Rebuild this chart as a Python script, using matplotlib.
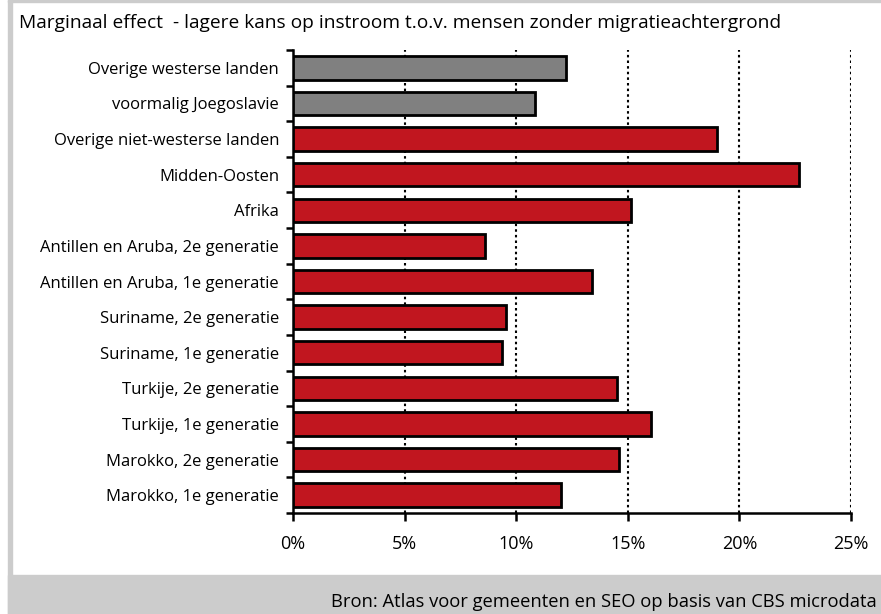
import matplotlib
matplotlib.use('Agg')
import matplotlib.pyplot as plt
from matplotlib.patches import Rectangle
from matplotlib.ticker import FuncFormatter

plt.rcParams['font.family'] = ['Open Sans', 'DejaVu Sans']

# Data (bottom to top)
categories = [
    'Marokko, 1e generatie',
    'Marokko, 2e generatie',
    'Turkije, 1e generatie',
    'Turkije, 2e generatie',
    'Suriname, 1e generatie',
    'Suriname, 2e generatie',
    'Antillen en Aruba, 1e generatie',
    'Antillen en Aruba, 2e generatie',
    'Afrika',
    'Midden-Oosten',
    'Overige niet-westerse landen',
    'voormalig Joegoslavie',
    'Overige westerse landen',
]
values = [12.0, 14.6, 16.05, 14.5, 9.35, 9.55, 13.4, 8.6, 15.15, 22.65, 19.0, 10.85, 12.25]
western = [False] * 11 + [True, True]

W, H = 881, 614
fig = plt.figure(figsize=(W / 100, H / 100), dpi=100)
fig.patch.set_facecolor('white')

# frame decorations (figure pixel coords)
def px_rect(x0, y0, x1, y1, color):
    fig.patches.append(Rectangle((x0 / W, 1 - y1 / H), (x1 - x0) / W, (y1 - y0) / H,
                                 transform=fig.transFigure, color=color, zorder=0))

px_rect(8, 0, 12, H, '#cccccc')
px_rect(8, 0, W, 2, '#cccccc')
px_rect(8, 575, W, H, '#cccccc')

ax = fig.add_axes([293 / W, 1 - 513 / H, (851 - 293) / W, (513 - 50) / H])
ax.set_facecolor('none')

colors = ['#808080' if w else '#c1161f' for w in western]
ax.barh(range(len(categories)), values, height=0.66, color=colors,
        edgecolor='black', linewidth=2.0, zorder=3)

ax.set_xlim(0, 25)
ax.set_ylim(-0.5, len(categories) - 0.5)
ax.set_xticks([0, 5, 10, 15, 20, 25])
ax.xaxis.set_major_formatter(FuncFormatter(lambda v, p: f'{v:.0f}%'))
ax.set_yticks(range(len(categories)))
ax.set_yticklabels(categories)
ax.set_yticks([i - 0.5 for i in range(len(categories) + 1)], minor=True)
ax.tick_params(axis='y', which='major', length=0, pad=10, labelsize=12)
ax.tick_params(axis='y', which='minor', length=5, width=1.8, direction='out')
ax.tick_params(axis='x', length=6, width=1.8, direction='out', pad=10, labelsize=13)

for v in [5, 10, 15, 20, 25]:
    ax.axvline(v, color='black', linestyle=(0, (1.2, 1.5)), linewidth=1.5, zorder=1)

for s in ['top', 'right']:
    ax.spines[s].set_visible(False)
for s in ['left', 'bottom']:
    ax.spines[s].set_linewidth(1.8)

fig.text(19 / W, 1 - 23 / H,
         'Marginaal effect  - lagere kans op instroom t.o.v. mensen zonder migratieachtergrond',
         fontsize=13.8, ha='left', va='center')
fig.text(877 / W, 1 - 602 / H,
         'Bron: Atlas voor gemeenten en SEO op basis van CBS microdata',
         fontsize=13.2, ha='right', va='center')

fig.savefig('out.png', dpi=100)
